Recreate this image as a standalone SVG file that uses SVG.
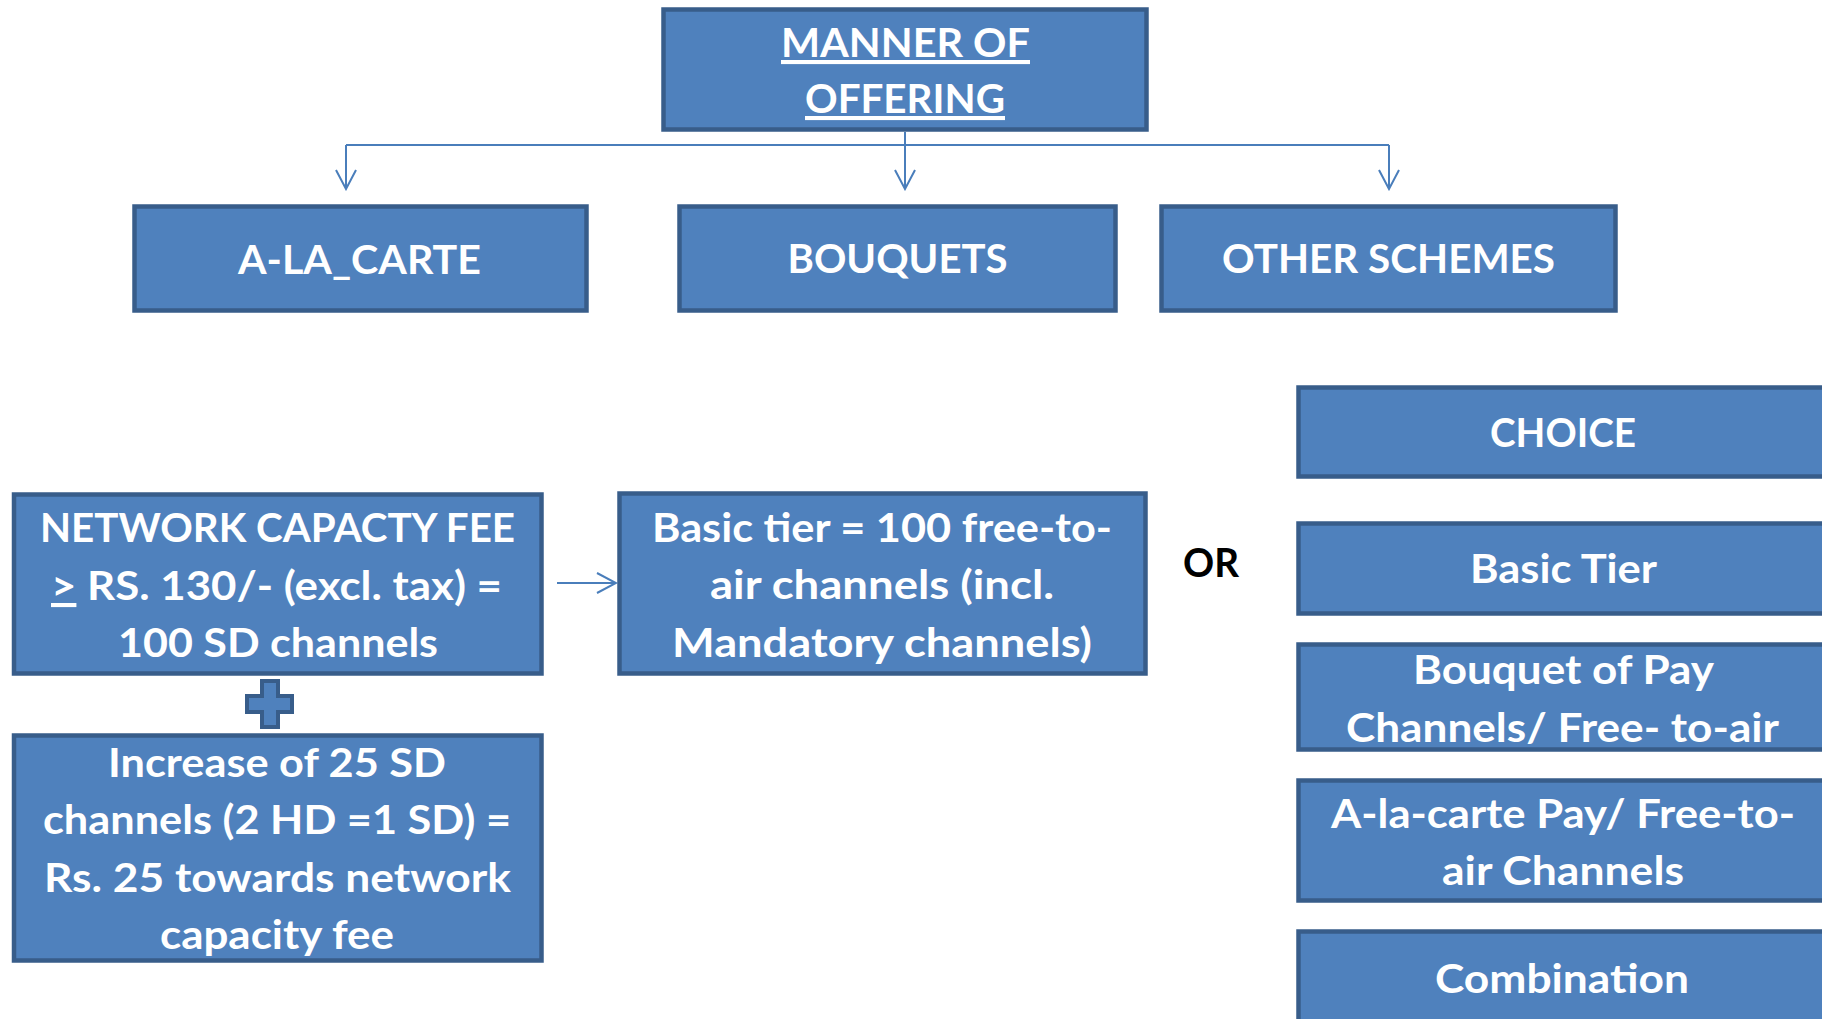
<svg xmlns="http://www.w3.org/2000/svg" width="1822" height="1019" viewBox="0 0 1822 1019">
<style>
.box{fill:#4F81BD;stroke:#385D8A;stroke-width:4.5}
.t{font-family:Lato,"Open Sans","Liberation Sans",sans-serif;font-weight:bold;font-size:41px;fill:#FFFFFF;text-anchor:middle}
.or{font-family:Lato,"Open Sans","Liberation Sans",sans-serif;font-weight:bold;font-size:41px;fill:#000000;text-anchor:middle}
.c{fill:none;stroke:#4A7EBB;stroke-width:2}
</style>
<defs>
<marker id="arr" viewBox="0 0 22 22" refX="20" refY="11" markerWidth="22" markerHeight="22" markerUnits="userSpaceOnUse" orient="auto">
<path d="M1,1 L20,11 L1,21" fill="none" stroke="#4A7EBB" stroke-width="2"/>
</marker>
</defs>
<rect width="1822" height="1019" fill="#FFFFFF"/>
<g id="connectors">
<path class="c" d="M346,145 H1389"/>
<path class="c" d="M905,132 V189" marker-end="url(#arr)"/>
<path class="c" d="M346,145 V189" marker-end="url(#arr)"/>
<path class="c" d="M1389,145 V189" marker-end="url(#arr)"/>
<path class="c" d="M557,583 H616" marker-end="url(#arr)"/>
</g>
<g id="manner">
<rect class="box" x="663.5" y="9.5" width="483" height="120"/>
<text class="t" x="905.5" y="57" textLength="249" lengthAdjust="spacingAndGlyphs" text-decoration="underline">MANNER OF</text>
<text class="t" x="905" y="113" textLength="200" lengthAdjust="spacingAndGlyphs" text-decoration="underline">OFFERING</text>
</g>
<g id="alacarte">
<rect class="box" x="134.5" y="206.5" width="452" height="104"/>
<text class="t" x="359.5" y="274" textLength="243" lengthAdjust="spacingAndGlyphs">A-LA_CARTE</text>
</g>
<g id="bouquets">
<rect class="box" x="679.5" y="206.5" width="436" height="104"/>
<text class="t" x="897.5" y="273" textLength="220" lengthAdjust="spacingAndGlyphs">BOUQUETS</text>
</g>
<g id="other">
<rect class="box" x="1161.5" y="206.5" width="454" height="104"/>
<text class="t" x="1388.5" y="273" textLength="333" lengthAdjust="spacingAndGlyphs">OTHER SCHEMES</text>
</g>
<g id="choice">
<rect class="box" x="1298.5" y="387.5" width="600" height="89"/>
<text class="t" x="1563" y="447" textLength="146" lengthAdjust="spacingAndGlyphs">CHOICE</text>
</g>
<g id="basictier">
<rect class="box" x="1298.5" y="523.5" width="600" height="90"/>
<text class="t" x="1563.5" y="583" textLength="187" lengthAdjust="spacingAndGlyphs">Basic Tier</text>
</g>
<g id="bouquetpay">
<rect class="box" x="1298.5" y="644.5" width="600" height="105"/>
<text class="t" x="1563.5" y="684" textLength="301" lengthAdjust="spacingAndGlyphs">Bouquet of Pay</text>
<text class="t" x="1562.5" y="742" textLength="433" lengthAdjust="spacingAndGlyphs">Channels/ Free- to-air</text>
</g>
<g id="alacartepay">
<rect class="box" x="1298.5" y="780.5" width="600" height="120"/>
<text class="t" x="1563" y="828" textLength="464" lengthAdjust="spacingAndGlyphs">A-la-carte Pay/ Free-to-</text>
<text class="t" x="1563" y="885" textLength="242" lengthAdjust="spacingAndGlyphs">air Channels</text>
</g>
<g id="combination">
<rect class="box" x="1298.5" y="931.5" width="600" height="200"/>
<text class="t" x="1562" y="993" textLength="254" lengthAdjust="spacingAndGlyphs">Combination</text>
</g>
<g id="ncf">
<rect class="box" x="14" y="494.5" width="527.5" height="179"/>
<text class="t" x="277.5" y="542" textLength="475" lengthAdjust="spacingAndGlyphs">NETWORK CAPACTY FEE</text>
<text class="t" x="276.5" y="600" textLength="451" lengthAdjust="spacingAndGlyphs"><tspan text-decoration="underline">&gt;</tspan> RS. 130/- (excl. tax) =</text>
<text class="t" x="278" y="657" textLength="320" lengthAdjust="spacingAndGlyphs">100 SD channels</text>
</g>
<g id="plus">
<path d="M262,681 H278 V696 H292 V712 H278 V727 H262 V712 H247 V696 H262 Z" fill="#4F81BD" stroke="#385D8A" stroke-width="4"/>
</g>
<g id="increase">
<rect class="box" x="14" y="735.5" width="527.5" height="225"/>
<text class="t" x="277" y="777" textLength="338" lengthAdjust="spacingAndGlyphs">Increase of 25 SD</text>
<text class="t" x="277" y="834" textLength="468" lengthAdjust="spacingAndGlyphs">channels (2 HD =1 SD) =</text>
<text class="t" x="277.5" y="892" textLength="467" lengthAdjust="spacingAndGlyphs">Rs. 25 towards network</text>
<text class="t" x="277" y="949" textLength="234" lengthAdjust="spacingAndGlyphs">capacity fee</text>
</g>
<g id="basic100">
<rect class="box" x="619.5" y="493.5" width="526" height="180"/>
<text class="t" x="882" y="542" textLength="460" lengthAdjust="spacingAndGlyphs">Basic tier = 100 free-to-</text>
<text class="t" x="882" y="599" textLength="344" lengthAdjust="spacingAndGlyphs">air channels (incl.</text>
<text class="t" x="882" y="657" textLength="420" lengthAdjust="spacingAndGlyphs">Mandatory channels)</text>
</g>
<g id="or">
<text class="or" x="1211" y="577" textLength="56" lengthAdjust="spacingAndGlyphs">OR</text>
</g>
</svg>
